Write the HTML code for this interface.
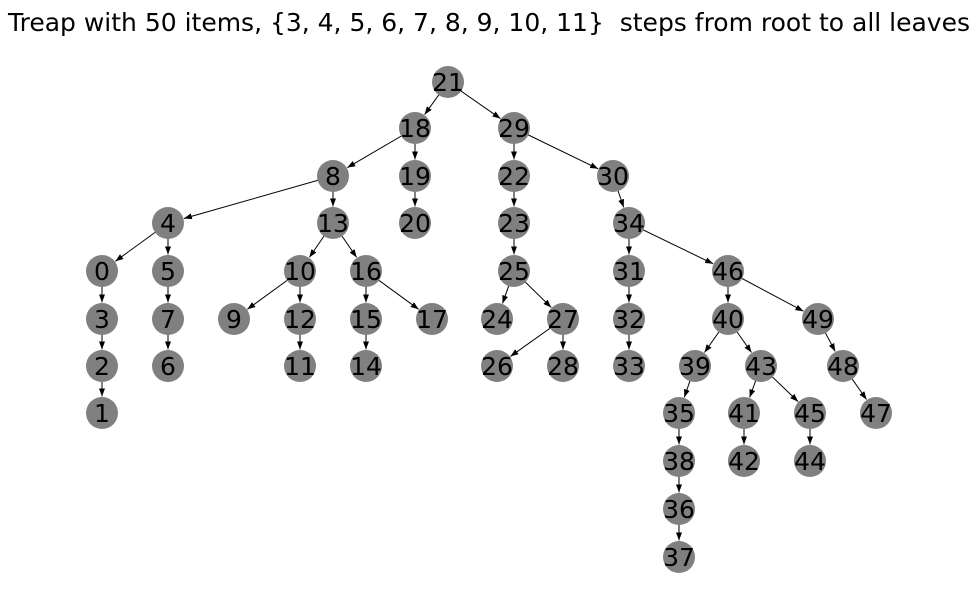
<!DOCTYPE html>
<html><head><meta charset="utf-8"><style>
html,body{margin:0;padding:0;background:#fff;width:978px;height:615px;overflow:hidden}
svg text{font-family:"DejaVu Sans","Liberation Sans",sans-serif}
</style></head><body>
<svg id="s" width="978" height="615" xmlns="http://www.w3.org/2000/svg">
<defs><marker id="a" markerWidth="8" markerHeight="6" refX="8" refY="3" orient="auto" markerUnits="userSpaceOnUse"><path d="M0,0 L8,3 L0,6 z" fill="#000"/></marker></defs>
<text x="489" y="31" font-size="25" text-anchor="middle" textLength="962" lengthAdjust="spacingAndGlyphs" style="white-space:pre">Treap with 50 items, {3, 4, 5, 6, 7, 8, 9, 10, 11}  steps from root to all leaves</text>
<g id="e"></g>
<g id="n" fill="#808080"></g>
<g font-size="25" text-anchor="middle" fill="#000">
<text x="448" y="91">21</text><text x="415" y="137">18</text><text x="514" y="137">29</text>
<text x="333" y="185">8</text><text x="415" y="185">19</text><text x="514" y="185">22</text><text x="613" y="185">30</text>
<text x="168" y="232">4</text><text x="333" y="232">13</text><text x="415" y="232">20</text><text x="514" y="232">23</text><text x="629" y="232">34</text>
<text x="102" y="280">0</text><text x="168" y="280">5</text><text x="300" y="280">10</text><text x="366" y="280">16</text><text x="514" y="280">25</text><text x="629" y="280">31</text><text x="728" y="280">46</text>
<text x="102" y="328">3</text><text x="168" y="328">7</text><text x="234" y="328">9</text><text x="300" y="328">12</text><text x="366" y="328">15</text><text x="432" y="328">17</text><text x="497" y="328">24</text><text x="563" y="328">27</text><text x="629" y="328">32</text><text x="728" y="328">40</text><text x="818" y="328">49</text>
<text x="102" y="375">2</text><text x="168" y="375">6</text><text x="300" y="375">11</text><text x="366" y="375">14</text><text x="497" y="375">26</text><text x="563" y="375">28</text><text x="629" y="375">33</text><text x="695" y="375">39</text><text x="761" y="375">43</text><text x="843" y="375">48</text>
<text x="102" y="422">1</text><text x="679" y="422">35</text><text x="744" y="422">41</text><text x="810" y="422">45</text><text x="876" y="422">47</text>
<text x="679" y="470">38</text><text x="744" y="470">42</text><text x="810" y="470">44</text>
<text x="679" y="518">36</text><text x="679" y="566">37</text>
</g>
</svg>
<script>
var P={21:[448,82],18:[415,128],29:[514,128],8:[333,176],19:[415,176],22:[514,176],30:[613,176],4:[168,223],13:[333,223],20:[415,223],23:[514,223],34:[629,223],0:[102,271],5:[168,271],10:[300,271],16:[366,271],25:[514,271],31:[629,271],46:[728,271],3:[102,319],7:[168,319],9:[234,319],12:[300,319],15:[366,319],17:[432,319],24:[497,319],27:[563,319],32:[629,319],40:[728,319],49:[818,319],2:[102,366],6:[168,366],11:[300,366],14:[366,366],26:[497,366],28:[563,366],33:[629,366],39:[695,366],43:[761,366],48:[843,366],1:[102,413],35:[679,413],41:[744,413],45:[810,413],47:[876,413],38:[679,461],42:[744,461],44:[810,461],36:[679,509],37:[679,557]};
var E=[[21,18],[21,29],[18,8],[18,19],[29,22],[29,30],[8,4],[8,13],[19,20],[22,23],[30,34],[4,0],[4,5],[13,10],[13,16],[23,25],[34,31],[34,46],[0,3],[5,7],[10,9],[10,12],[16,15],[16,17],[25,24],[25,27],[31,32],[46,40],[46,49],[3,2],[7,6],[12,11],[15,14],[27,26],[27,28],[32,33],[40,39],[40,43],[49,48],[2,1],[39,35],[43,41],[43,45],[48,47],[35,38],[41,42],[45,44],[38,36],[36,37]];
var ns="http://www.w3.org/2000/svg",e=document.getElementById('e'),n=document.getElementById('n');
E.forEach(function(p){var a=P[p[0]],b=P[p[1]],dx=b[0]-a[0],dy=b[1]-a[1],d=Math.hypot(dx,dy),r=16.5;
var l=document.createElementNS(ns,'line');l.setAttribute('x1',a[0]);l.setAttribute('y1',a[1]);l.setAttribute('x2',b[0]-dx/d*r);l.setAttribute('y2',b[1]-dy/d*r);l.setAttribute('stroke','#000');l.setAttribute('stroke-width','1');l.setAttribute('marker-end','url(#a)');e.appendChild(l);});
for(var k in P){var c=document.createElementNS(ns,'circle');c.setAttribute('cx',P[k][0]);c.setAttribute('cy',P[k][1]);c.setAttribute('r',16);n.appendChild(c);}
</script>
</body></html>
